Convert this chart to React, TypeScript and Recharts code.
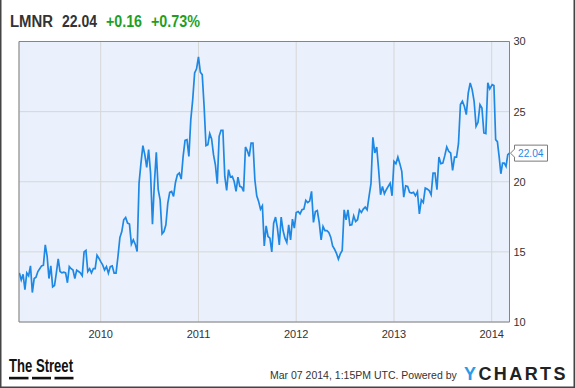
import {
  CartesianGrid,
  Line,
  LineChart,
  ReferenceArea,
  ReferenceDot,
  XAxis,
  YAxis,
} from 'recharts'

// weekly closes, one list per calendar year
const prices2009 = [
  13.5, 13.0, 13.4, 12.3, 13.5, 13.3, 14.0, 12.1, 13.1, 13.2, 13.6, 13.8, 14.0, 14.05, 15.5, 14.7,
  13.1, 14.0, 12.5, 12.6, 13.5, 14.5, 13.6, 13.5, 13.55, 13.5, 12.8, 13.95, 13.8, 13.7, 13.1, 13.7,
  13.6, 13.5, 13.3, 15.0, 15.1, 13.6, 13.8, 13.5, 13.8, 13.8, 14.76, 14.55,
]
const prices2010 = [
  14.3, 14.07, 13.71, 13.95, 13.48, 13.95, 14.0, 13.48, 13.48, 14.67, 16.02, 16.45, 17.29, 17.45,
  17.05, 16.98, 15.55, 15.86, 15.55, 15.02, 19.9, 21.33, 22.57, 21.93, 21.02, 22.29, 20.62, 16.98,
  19.9, 22.1, 19.43, 18.71, 16.29, 16.45, 16.93, 18.48, 19.24, 19.31, 18.95, 19.95, 20.5, 20.62,
  20.19, 21.81, 22.95, 23.0, 21.81, 24.43, 25.86, 27.76, 28.05,
]
const prices2011 = [
  28.9, 27.81, 27.64, 25.38, 22.57, 22.64, 23.43, 23.05, 21.93, 21.21, 19.86, 23.24, 23.67, 23.67,
  20.38, 19.38, 20.86, 20.33, 20.38, 20.02, 19.31, 20.33, 19.67, 19.62, 19.31, 22.48, 22.21, 21.81,
  22.76, 22.76, 20.14, 19.0, 18.6, 18.05, 18.29, 15.43, 16.86, 16.1, 15.98, 15.0, 17.05, 17.48,
  16.69, 15.5, 17.48, 16.52, 15.98, 15.67, 16.93, 15.86, 17.33, 16.69,
]
const prices2012 = [
  17.81, 17.88, 17.71, 18.0, 18.05, 18.67, 18.52, 18.62, 19.31, 17.1, 17.88, 17.95, 17.1, 15.86,
  16.81, 16.52, 16.52, 16.38, 16.05, 15.43, 15.19, 14.9, 14.48, 14.86, 15.1, 18.0, 17.29, 18.0,
  16.9, 16.93, 17.57, 17.17, 17.29, 18.0, 17.81, 18.05, 18.19, 18.0, 18.95, 19.86, 23.17, 22.05,
  22.48, 20.86, 19.07, 19.67, 19.14, 19.43, 19.67, 19.9, 19.0,
]
const prices2013 = [
  21.45, 21.29, 21.76, 21.29, 20.74, 18.9, 19.71, 19.67, 19.24, 19.19, 19.24, 19.0, 19.29, 17.71,
  18.71, 18.52, 19.55, 19.48, 19.38, 19.07, 20.62, 20.62, 19.43, 21.76, 21.29, 21.33, 21.86, 22.48,
  22.17, 22.05, 20.81, 21.76, 21.76, 22.71, 25.5, 25.74, 25.38, 24.79, 26.33, 27.05, 26.57, 25.74,
  23.95, 24.24, 25.5, 25.26, 23.48, 23.43, 27.05, 26.62,
]
const prices2014 = [26.93, 26.86, 23.0, 22.86, 21.81, 20.57, 21.33, 21.33, 21.1, 21.93, 22.04]

const yearTicks = [2010, 2011, 2012, 2013, 2014]
const priceTicks = [10, 15, 20, 25, 30]

const START = 2009.164 // ~Mar 1 2009
const END = 2014.182 // Mar 7 2014
const LAST = 22.04

function spread(from: number, to: number, vals: number[], inclusive = false) {
  const n = inclusive ? vals.length - 1 : vals.length
  return vals.map((v, i) => ({ t: from + ((to - from) * i) / n, v }))
}

const data = [
  ...spread(START + 0.004, 2010, prices2009),
  ...spread(2010, 2011, prices2010),
  ...spread(2011, 2012, prices2011),
  ...spread(2012, 2013, prices2012),
  ...spread(2013, 2014, prices2013),
  ...spread(2014.005, END, prices2014, true),
]

const FONT = '"Liberation Sans", Arial, sans-serif'
const BLUE = '#1e88e5'

function Callout(props: any) {
  const { cx, cy } = props
  const d = `M${cx + 1},${cy} L${cx + 5},${cy - 4} L${cx + 5},${cy - 8} L${cx + 38},${cy - 8} L${cx + 38},${cy + 8} L${cx + 5},${cy + 8} L${cx + 5},${cy + 4} Z`
  return (
    <g>
      <path d={d} fill="#fff" stroke="#7a7a7a" strokeWidth={1} />
      <text
        x={cx + 8.5}
        y={cy + 4}
        fill={BLUE}
        fontSize={11.5}
        fontFamily={FONT}
        textLength={25.5}
        lengthAdjust="spacingAndGlyphs"
      >
        {LAST.toFixed(2)}
      </text>
    </g>
  )
}

export default function App() {
  return (
    <div style={{ position: 'absolute', left: 0, top: 0, width: 575, height: 388, background: '#fff' }}>
      <LineChart
        width={575}
        height={388}
        data={data}
        margin={{ top: 41.5, right: 0, bottom: 0, left: 19 }}
        style={{ fontFamily: FONT }}
      >
        <CartesianGrid stroke="#d6d6d6" fill="#eaf1fc" />
        <XAxis
          dataKey="t"
          type="number"
          domain={[START, END]}
          ticks={yearTicks}
          allowDataOverflow
          height={66}
          axisLine={false}
          tickLine={false}
          tickSize={6}
          tickMargin={2}
          tick={{ fill: '#333', fontSize: 11 }}
          tickFormatter={(t: number) => String(Math.round(t))}
        />
        <YAxis
          orientation="right"
          type="number"
          domain={[10, 30]}
          ticks={priceTicks}
          width={65.5}
          axisLine={false}
          tickLine={false}
          tickSize={2}
          tickMargin={2}
          tick={{ fill: '#333', fontSize: 11, textAnchor: 'start' }}
        />
        <ReferenceArea x1={START} x2={END} y1={10} y2={30} fill="none" stroke="#858585" strokeWidth={1} />
        <Line
          type="linear"
          dataKey="v"
          stroke={BLUE}
          strokeWidth={1.7}
          dot={false}
          isAnimationActive={false}
        />
        <ReferenceDot x={END} y={LAST} shape={Callout} ifOverflow="visible" />
      </LineChart>

      <svg
        width={575}
        height={388}
        style={{ position: 'absolute', left: 0, top: 0, pointerEvents: 'none' }}
        fontFamily={FONT}
      >
        <g fontSize={16} fontWeight="bold">
          <text x={10} y={27} fill="#333" textLength={43} lengthAdjust="spacingAndGlyphs">LMNR</text>
          <text x={62} y={27} fill="#333" textLength={35} lengthAdjust="spacingAndGlyphs">22.04</text>
          <text x={106} y={27} fill="#1f9f1f" textLength={36} lengthAdjust="spacingAndGlyphs">+0.16</text>
          <text x={151} y={27} fill="#1f9f1f" textLength={49} lengthAdjust="spacingAndGlyphs">+0.73%</text>
        </g>

        <text
          x={9}
          y={372}
          fontSize={19}
          fontWeight="bold"
          fill="#111"
          fontFamily='"Liberation Sans Narrow", "Liberation Sans", Arial'
          textLength={64}
          lengthAdjust="spacingAndGlyphs"
        >
          The Street
        </text>
        <rect x={9} y={376.8} width={19.5} height={2.6} fill="#111" />
        <rect x={32} y={376.8} width={19} height={2.6} fill="#111" />
        <rect x={54.5} y={376.8} width={19} height={2.6} fill="#111" />

        <text x={270} y={379} fontSize={10.5} fill="#333">
          Mar 07 2014, 1:15PM UTC.  Powered by
        </text>
        <text x={464} y={380} fontSize={18} fontWeight="bold" fill="#222" textLength={101.5} lengthAdjust="spacing">
          <tspan fill="#2b9be8">Y</tspan>
          <tspan>CHARTS</tspan>
        </text>

        <line x1={0.75} y1={0} x2={0.75} y2={388} stroke="#444" strokeWidth={1.5} />
        <line x1={574.25} y1={0} x2={574.25} y2={388} stroke="#444" strokeWidth={1.5} />
        <line x1={0} y1={387.25} x2={575} y2={387.25} stroke="#444" strokeWidth={1.5} />
      </svg>
    </div>
  )
}
